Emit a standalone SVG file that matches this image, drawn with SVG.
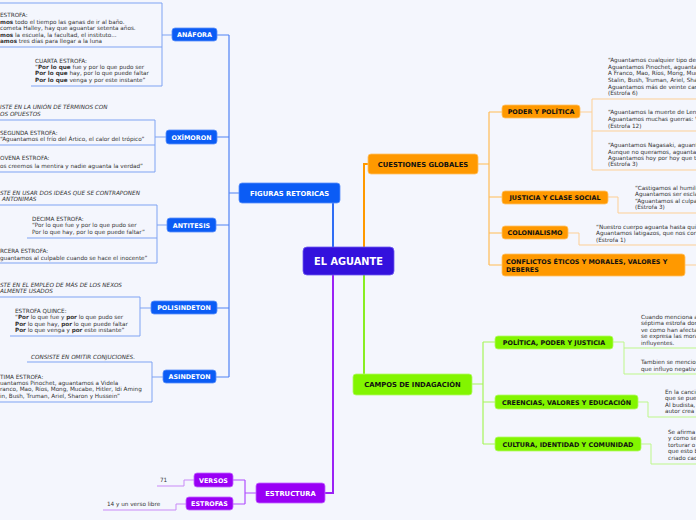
<svg xmlns="http://www.w3.org/2000/svg" width="696" height="520" viewBox="0 0 696 520">
<style>
text{font-family:"DejaVu Sans","Verdana",sans-serif}
.t{font-size:5.7px;fill:#333}
.i{font-size:5.7px;fill:#333;font-style:italic}
.b{font-weight:bold}
.n1{font-size:6.8px;font-weight:bold;text-anchor:middle}
.n2{font-size:6.4px;font-weight:bold;text-anchor:middle}
.w{fill:#fff}
.k{fill:#111}
.bl{fill:#0b5cf5;stroke:#5c90fa;stroke-width:0.8}
.or{fill:#ff9900;stroke:#ffc266;stroke-width:0.8}
.gr{fill:#82f500;stroke:#b3fa66;stroke-width:0.8}
.pu{fill:#9900f5;stroke:#c266ff;stroke-width:0.8}
.lb{fill:none;stroke:#4f82f5;stroke-width:1.2}
.ub{fill:none;stroke:#7fa3f3;stroke-width:1}
.lo{fill:none;stroke:#ffbb55;stroke-width:1.2}
.uo{fill:none;stroke:#fdcf95;stroke-width:1}
.lg{fill:none;stroke:#a6f55a;stroke-width:1.2}
.ug{fill:none;stroke:#bdf78a;stroke-width:1}
.lp{fill:none;stroke:#b04dff;stroke-width:1.2}
.up{fill:none;stroke:#c98af7;stroke-width:1}
</style>
<rect width="696" height="520" fill="#f4f6fd"/>
<g id="connectors">
<path class="lb" d="M333,247V203" stroke-width="2" style="stroke:#2f6df5;stroke-width:2"/>
<path class="lo" d="M364,247V164H368" style="stroke:#ff9900;stroke-width:2"/>
<path class="lg" d="M364,275V374" style="stroke:#88ee22;stroke-width:2"/>
<path class="lp" d="M333,275V493H325" style="stroke:#9b22f5;stroke-width:2"/>
<path class="lb" d="M239,193H229M229,35V377M217,35H229M217,137H229M216,225H229M217,308H229M216,377H229"/>
<path class="ub" d="M172,35H162M162,3V86M0,3H162M0,47H162M31,86H162"/>
<path class="ub" d="M166,137H155M155,120V172M0,120H155M0,145H155M0,172H155"/>
<path class="ub" d="M167,225H157M157,205V263M0,205H157M27,238H157M0,263H157"/>
<path class="ub" d="M151,308H140M140,297V336M0,297H140M10,336H140"/>
<path class="ub" d="M163,377H152M152,362V402M27,362H152M0,402H152"/>
<path class="lo" d="M478,164H489M489,112V265M489,112H502M489,197H502M489,233H502M489,265H502"/>
<path class="uo" d="M580,112H592M592,99V170M592,99H696M592,131H696M592,170H696"/>
<path class="uo" d="M608,197H618V213H696"/>
<path class="uo" d="M568,233H579V245H696"/>
<path class="uo" d="M685,265H696"/>
<path class="lg" d="M472,384H483M483,342V444M483,342H495M483,402H495M483,444H495"/>
<path class="ug" d="M613,342H624M624,342V374M624,348H696M624,374H696"/>
<path class="ug" d="M638,402H648V417H696"/>
<path class="ug" d="M641,444H651V464H696"/>
<path class="lp" d="M256,493H245M245,480V504M233,480H245M233,504H245"/>
<path class="up" d="M157,486H184V480H194"/>
<path class="up" d="M103,510H176V504H186"/>
</g>
<g id="center"><rect x="303" y="247" width="91" height="28" rx="4" fill="#3311dd" stroke="#6f5cf0" stroke-width="0.8"/><text x="348.5" y="264.5" text-anchor="middle" font-size="9.8" font-weight="bold" fill="#fff">EL AGUANTE</text></g>
<g id="figuras"><rect class="bl" x="239" y="183" width="101" height="20" rx="3"/><text class="n1 w" x="289.5" y="195.5">FIGURAS RETORICAS</text></g>
<g id="anafora"><rect class="bl" x="172" y="28" width="45" height="13" rx="3"/><text class="n2 w" x="194.5" y="37.2">ANÁFORA</text></g>
<g id="oximoron"><rect class="bl" x="166" y="130" width="51" height="14" rx="3"/><text class="n2 w" x="191.5" y="139.5">OXÍMORON</text></g>
<g id="antitesis"><rect class="bl" x="167" y="218" width="49" height="14" rx="3"/><text class="n2 w" x="191.5" y="227.5">ANTITESIS</text></g>
<g id="polisindeton"><rect class="bl" x="151" y="301" width="66" height="13" rx="3"/><text class="n2 w" x="184" y="310.2">POLISINDETON</text></g>
<g id="asindeton"><rect class="bl" x="163" y="370" width="53" height="13" rx="3"/><text class="n2 w" x="189.5" y="379.2">ASINDETON</text></g>
<g id="anafora-texts">
<text class="t" x="0" y="17">ESTROFA:</text>
<text class="t" x="0" y="24"><tspan class="b">mos</tspan> todo el tiempo las ganas de ir al baño.</text>
<text class="t" x="0" y="30">cometa Halley, hay que aguantar setenta años.</text>
<text class="t" x="0" y="37"><tspan class="b">mos</tspan> la escuela, la facultad, el instituto...</text>
<text class="t" x="0" y="43"><tspan class="b">amos</tspan> tres días para llegar a la luna</text>
<text class="t" x="35" y="63">CUARTA ESTROFA:</text>
<text class="t" x="35" y="69">“<tspan class="b">Por lo que</tspan> fue y por lo que pudo ser</text>
<text class="t" x="35" y="75"><tspan class="b">Por lo que</tspan> hay, por lo que puede faltar</text>
<text class="t" x="35" y="82"><tspan class="b">Por lo que</tspan> venga y por este instante”</text>
</g>
<g id="oximoron-texts">
<text class="i" x="0" y="109">ISTE EN LA UNIÓN DE TÉRMINOS CON</text>
<text class="i" x="0" y="116">OS OPUESTOS</text>
<text class="t" x="0" y="135">SEGUNDA ESTROFA:</text>
<text class="t" x="0" y="141">“Aguantamos el frío del Ártico, el calor del trópico”</text>
<text class="t" x="0" y="160">OVENA ESTROFA:</text>
<text class="t" x="0" y="168">os creemos la mentira y nadie aguanta la verdad”</text>
</g>
<g id="antitesis-texts">
<text class="i" x="0" y="195">STE EN USAR DOS IDEAS QUE SE CONTRAPONEN</text>
<text class="i" x="2" y="201">ANTONIMAS</text>
<text class="t" x="32" y="221">DECIMA ESTROFA:</text>
<text class="t" x="32" y="227">“Por lo que fue y por lo que pudo ser</text>
<text class="t" x="32" y="234">Por lo que hay, por lo que puede faltar”</text>
<text class="t" x="0" y="253">RCERA ESTROFA:</text>
<text class="t" x="0" y="260">guantamos al culpable cuando se hace el inocente”</text>
</g>
<g id="polisindeton-texts">
<text class="i" x="0" y="287">STE EN EL EMPLEO DE MÁS DE LOS NEXOS</text>
<text class="i" x="0" y="293">ALMENTE USADOS</text>
<text class="t" x="15" y="313">ESTROFA QUINCE:</text>
<text class="t" x="15" y="319">“<tspan class="b">Por</tspan> lo que fue y <tspan class="b">por</tspan> lo que pudo ser</text>
<text class="t" x="15" y="326"><tspan class="b">Por</tspan> lo que hay, <tspan class="b">por</tspan> lo que puede faltar</text>
<text class="t" x="15" y="332"><tspan class="b">Por</tspan> lo que venga y <tspan class="b">por</tspan> este instante”</text>
</g>
<g id="asindeton-texts">
<text class="i" x="31" y="359">CONSISTE EN OMITIR CONJUCIONES.</text>
<text class="t" x="0" y="379">TIMA ESTROFA:</text>
<text class="t" x="0" y="385">uantamos Pinochet, aguantamos a Videla</text>
<text class="t" x="0" y="391">ranco, Mao, Ríos, Mong, Mucabe, Hitler, Idi Aming</text>
<text class="t" x="0" y="398">in, Bush, Truman, Ariel, Sharon y Hussein”</text>
</g>
<g id="cuestiones"><rect class="or" x="368" y="154" width="110" height="20" rx="3"/><text class="n1 k" x="423" y="166.5">CUESTIONES GLOBALES</text></g>
<g id="poder"><rect class="or" x="502" y="105" width="78" height="13" rx="3"/><text class="n2 k" x="541" y="114.2">PODER Y POLÍTICA</text></g>
<g id="justicia"><rect class="or" x="502" y="191" width="106" height="13" rx="3"/><text class="n2 k" x="555" y="200.2">JUSTICIA Y CLASE SOCIAL</text></g>
<g id="colonialismo"><rect class="or" x="502" y="226" width="66" height="13" rx="3"/><text class="n2 k" x="535" y="235.2">COLONIALISMO</text></g>
<g id="conflictos"><rect class="or" x="502" y="254" width="183" height="22" rx="3"/><text class="k b" x="506" y="264" font-size="6.4">CONFLICTOS ÉTICOS Y MORALES, VALORES Y</text><text class="k b" x="506" y="271.5" font-size="6.4">DEBERES</text></g>
<g id="poder-texts">
<text class="t" x="608" y="62">“Aguantamos cualquier tipo de c</text>
<text class="t" x="608" y="69">Aguantamos Pinochet, aguantam</text>
<text class="t" x="608" y="75">A Franco, Mao, Ríos, Mong, Muc</text>
<text class="t" x="608" y="82">Stalin, Bush, Truman, Ariel, Sha</text>
<text class="t" x="608" y="89">Aguantamos más de veinte cam</text>
<text class="t" x="608" y="95">(Estrofa 6)</text>
<text class="t" x="608" y="114">“Aguantamos la muerte de Lenn</text>
<text class="t" x="608" y="121">Aguantamos muchas guerras: V</text>
<text class="t" x="608" y="128">(Estrofa 12)</text>
<text class="t" x="608" y="147">“Aguantamos Nagasaki, aguant</text>
<text class="t" x="608" y="154">Aunque no queramos, aguantam</text>
<text class="t" x="608" y="160">Aguantamos hoy por hoy que to</text>
<text class="t" x="608" y="166">(Estrofa 3)</text>
</g>
<g id="justicia-texts">
<text class="t" x="635" y="190">“Castigamos al humild</text>
<text class="t" x="635" y="196">Aguantamos ser esclav</text>
<text class="t" x="635" y="203">“Aguantamos al culpab</text>
<text class="t" x="635" y="209">(Estrofa 3)</text>
</g>
<g id="colonialismo-texts">
<text class="t" x="596" y="229">“Nuestro cuerpo aguanta hasta quin</text>
<text class="t" x="596" y="235">Aguantamos latigazos, que nos cort</text>
<text class="t" x="596" y="242">(Estrofa 1)</text>
</g>
<g id="campos"><rect class="gr" x="353" y="374" width="119" height="21" rx="3"/><text class="n1 k" x="412.5" y="386.8">CAMPOS DE INDAGACIÓN</text></g>
<g id="politica"><rect class="gr" x="495" y="336" width="118" height="13" rx="3"/><text class="n2 k" x="554" y="345.2">POLÍTICA, PODER Y JUSTICIA</text></g>
<g id="creencias"><rect class="gr" x="495" y="395" width="143" height="14" rx="3"/><text class="n2 k" x="566.5" y="404.5">CREENCIAS, VALORES Y EDUCACIÓN</text></g>
<g id="cultura"><rect class="gr" x="495" y="437" width="146" height="14" rx="3"/><text class="n2 k" x="568" y="446.5">CULTURA, IDENTIDAD Y COMUNIDAD</text></g>
<g id="politica-texts">
<text class="t" x="641" y="319">Cuando menciona a</text>
<text class="t" x="641" y="325">séptima estrofa don</text>
<text class="t" x="641" y="332">ve como han afecta</text>
<text class="t" x="641" y="338">se expresa las mora</text>
<text class="t" x="641" y="345">influyentes.</text>
<text class="t" x="641" y="364">Tambien se mencion</text>
<text class="t" x="641" y="371">que influyo negativa</text>
</g>
<g id="creencias-texts">
<text class="t" x="665" y="394">En la cancio</text>
<text class="t" x="665" y="400">que se pued</text>
<text class="t" x="665" y="407">Al budista,</text>
<text class="t" x="665" y="413">autor crea</text>
</g>
<g id="cultura-texts">
<text class="t" x="668" y="434">Se afirma</text>
<text class="t" x="668" y="440">y como se</text>
<text class="t" x="668" y="447">torturar o</text>
<text class="t" x="668" y="453">que esto b</text>
<text class="t" x="668" y="460">criado cad</text>
</g>
<g id="estructura"><rect class="pu" x="256" y="483" width="69" height="20" rx="3"/><text class="n1 w" x="290.5" y="495.5">ESTRUCTURA</text></g>
<g id="versos"><rect class="pu" x="194" y="473" width="39" height="14" rx="3"/><text class="n2 w" x="213.5" y="482.5">VERSOS</text></g>
<g id="estrofas"><rect class="pu" x="186" y="497" width="47" height="13" rx="3"/><text class="n2 w" x="209.5" y="506">ESTROFAS</text></g>
<g id="estructura-texts">
<text class="t" x="160" y="482">71</text>
<text class="t" x="107" y="506">14 y un verso libre</text>
</g>
</svg>
